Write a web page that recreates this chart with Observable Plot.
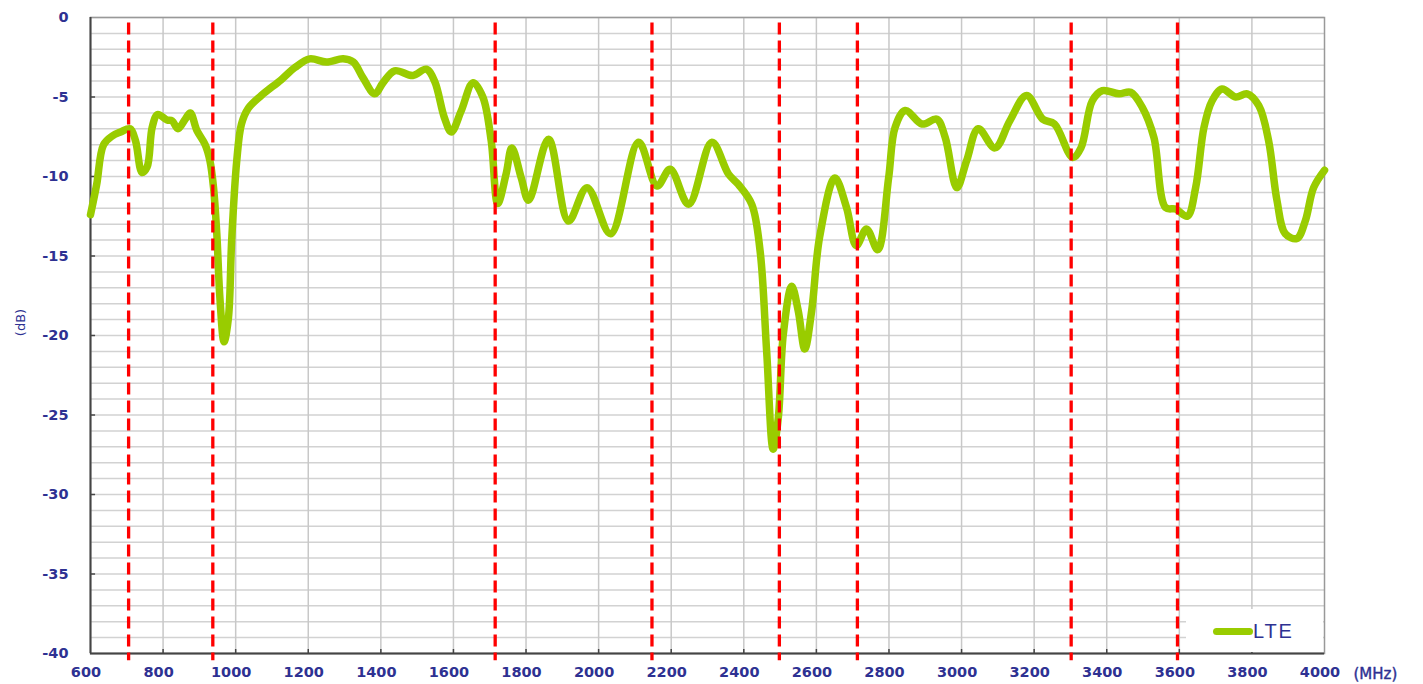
<!DOCTYPE html>
<html>
<head>
<meta charset="utf-8">
<script src="https://cdn.jsdelivr.net/npm/d3@7"></script>
<script src="https://cdn.jsdelivr.net/npm/@observablehq/plot@0.6"></script>
<style>
  html, body { margin: 0; padding: 0; background: #fff; }
  #wrap { position: relative; width: 1423px; height: 684px; }
  #legend { position: absolute; left: 1186px; top: 609px; width: 137px; height: 43px; background: #fff; }
  #legend .sw { position: absolute; left: 27px; top: 19px; width: 40px; height: 7px; border-radius: 4px; background: #99cc00; }
  #legend .lb { position: absolute; left: 67px; top: 9px; font: 20px "Liberation Sans", Arial, sans-serif; letter-spacing: 1.8px; color: #2e3192; line-height: 26px; }
</style>
</head>
<body>
<div id="wrap"><div id="legend"><div class="sw"></div><div class="lb">LTE</div></div></div>
<script>
const freq = [600,617,636,660,683,709,724,742,756,770,785,811,825,841,861,875,893,916,929,939,948,957,968,980,989,1003,1016,1035,1071,1126,1163,1204,1250,1296,1324,1351,1383,1406,1438,1488,1525,1548,1575,1594,1621,1654,1681,1704,1722,1745,1761,1787,1807,1862,1917,1968,2033,2110,2161,2197,2248,2312,2358,2385,2422,2445,2463,2481,2495,2509,2532,2550,2568,2587,2609,2651,2683,2710,2738,2769,2799,2817,2845,2891,2932,2955,2987,3014,3046,3092,3133,3179,3224,3256,3306,3329,3360,3388,3434,3466,3498,3530,3562,3590,3622,3645,3668,3690,3718,3755,3787,3819,3846,3869,3892,3924,3947,3970,4000];
const lte = [-12.4,-10.5,-8.0,-7.45,-7.2,-7.0,-7.75,-9.75,-9.4,-6.9,-6.1,-6.45,-6.5,-7.0,-6.4,-6.0,-7.1,-8.0,-9.0,-10.7,-13.6,-17.8,-20.4,-18.9,-14.0,-9.0,-6.7,-5.7,-4.9,-3.9,-3.15,-2.6,-2.8,-2.6,-2.8,-3.8,-4.8,-4.1,-3.35,-3.65,-3.25,-4.0,-6.3,-7.2,-5.9,-4.1,-5.0,-7.75,-11.7,-9.85,-8.2,-10.1,-11.5,-7.65,-12.8,-10.7,-13.6,-7.85,-10.6,-9.55,-11.75,-7.85,-9.85,-10.5,-11.75,-14.7,-21.0,-27.15,-25.2,-19.9,-16.9,-18.45,-20.85,-18.45,-13.8,-10.1,-11.95,-14.35,-13.3,-14.6,-10.1,-6.9,-5.85,-6.7,-6.4,-7.55,-10.7,-9.0,-7.0,-8.2,-6.5,-4.9,-6.4,-6.7,-8.8,-8.2,-5.25,-4.6,-4.8,-4.7,-5.65,-7.55,-11.95,-12.05,-12.5,-10.7,-6.9,-5.25,-4.5,-5.0,-4.8,-5.55,-7.75,-11.5,-13.6,-13.9,-12.8,-10.7,-9.6];
const bandEdges = [705, 937, 1715, 2147, 2498, 2713, 3302, 3595];
const xTicks = d3.range(600, 4001, 200);
const yTicks = d3.range(-40, 1, 5);
const yGrid = d3.range(-40, 1, 1);
const seriesName = "LTE";
const xUnit = "(MHz)";
const yUnit = "(dB)";

const data = freq.map((f, i) => ({f, v: lte[i]}));
const navy = "#2e3192";
const fontFam = "DejaVu Sans, Verdana, sans-serif";

const chart = Plot.plot({
  width: 1423,
  height: 684,
  marginLeft: 90,
  marginRight: 99,
  marginTop: 17,
  marginBottom: 31,
  style: {fontFamily: fontFam, background: "#fff", overflow: "visible"},
  x: {type: "linear", domain: [600, 4000]},
  y: {type: "linear", domain: [-40, 0]},
  marks: [
    Plot.ruleY(yGrid, {stroke: "#d2d2d2", strokeWidth: 1.5}),
    Plot.ruleX(xTicks.slice(1, -1), {stroke: "#c8c8c8", strokeWidth: 1.5}),
    Plot.frame({stroke: "#999", strokeWidth: 1.5}),
    Plot.ruleX([600], {stroke: "#444", strokeWidth: 2}),
    Plot.ruleY([-40], {stroke: "#444", strokeWidth: 2}),
    Plot.axisY({ticks: yTicks, tickSize: 0, tickPadding: 22, tickFormat: d => String(d), fontSize: 14.5, fontWeight: "bold", fill: navy, label: null}),
    Plot.ruleY(yTicks.slice(1, -1), {x1: 600, x2: 614, stroke: "#444", strokeWidth: 1.5}),
    Plot.ruleX(xTicks.slice(1, -1), {y1: -40, y2: -39.75, stroke: "#444", strokeWidth: 1.5}),
    Plot.axisX({ticks: xTicks, tickSize: 0, tickPadding: 13, tickFormat: d => String(d), fontSize: 14.5, fontWeight: "bold", fill: navy, dx: -4.5, label: null}),
    Plot.line(data, {x: "f", y: "v", curve: "catmull-rom", stroke: "#99cc00", strokeWidth: 7.5, strokeLinejoin: "round", strokeLinecap: "round"}),
    Plot.ruleX(bandEdges, {y1: -0.35, y2: -40.45, stroke: "#ff0000", strokeWidth: 3.3, strokeDasharray: "12,6"}),
    Plot.text([yUnit], {frameAnchor: "left", dx: -70, dy: -13, rotate: -90, fill: navy, fontSize: 13, textAnchor: "middle", lineAnchor: "middle"}),
    Plot.text([xUnit], {frameAnchor: "bottom-right", dx: 29, dy: 21, fill: navy, fontSize: 15, textAnchor: "start", lineAnchor: "middle", stroke: navy, strokeWidth: 0.4})
  ]
});
document.getElementById("wrap").prepend(chart);
</script>
</body>
</html>
